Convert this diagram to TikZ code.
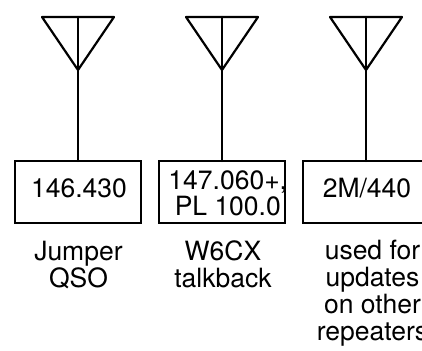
\documentclass[tikz,border=0pt]{standalone}
\usepackage{fontspec}
\setmainfont{TeX Gyre Heros}
\tikzset{
  x=1pt,y=-1pt,
  wire/.style={line width=2.2pt,line cap=round,line join=round},
  radio/.style={draw,line width=2.2pt,minimum width=126pt,minimum height=62pt,inner sep=0pt,outer sep=0pt},
  txt/.style={inner sep=0pt,outer sep=0pt,align=center,font=\fontsize{26.5}{26.7}\selectfont,anchor=base},
}
\begin{document}
\begin{tikzpicture}
\useasboundingbox (0,0) rectangle (422,350);
\begin{scope}
\clip (0,0) rectangle (422,350);
\foreach \n/\c in {a/78,b/222,c/366}{
  \node[radio] (box\n) at (\c,192) {};
  \coordinate (apex\n) at (\c,70);
  \coordinate (top\n) at (\c,17);
  \coordinate (tl\n) at (\c-36,17);
  \coordinate (tr\n) at (\c+36,17);
  \draw[wire] (box\n.north) -- (apex\n) -- (top\n);
  \draw[wire] (tl\n) -- (tr\n) -- (apex\n) -- cycle;
}
\node[txt] (fa) at (79,197.5) {146.430};
\node[txt] (fb) at (227.8,215.7) {147.060+,\\PL 100.0};
\node[txt] (fc) at (367,197.5) {2M/440};
\node[txt] (la) at (78.5,287.5) {Jumper\\QSO};
\node[txt] (lb) at (223,287.5) {W6CX\\talkback};
\node[txt] (lc) at (372.5,340) {used for\\updates\\on other\\repeaters};
\end{scope}
\end{tikzpicture}
\end{document}
